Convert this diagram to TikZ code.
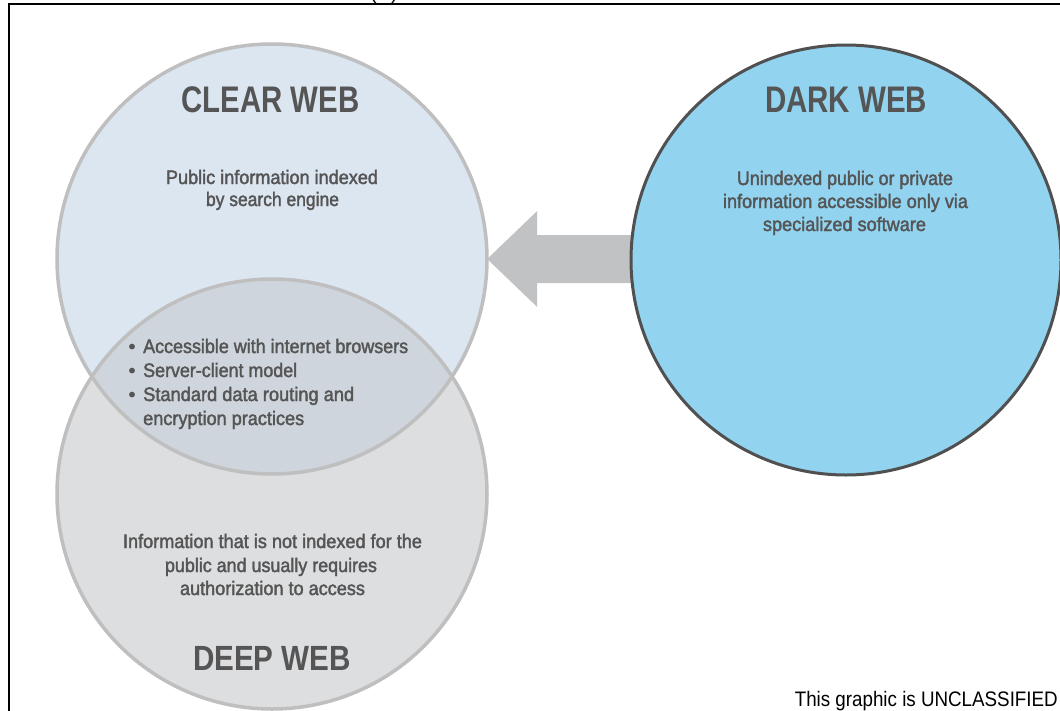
\documentclass[tikz,border=0pt]{standalone}
\usepackage{fontspec}
\usepackage{graphicx}
\setmainfont{Liberation Sans}
\newfontfamily\bodyf{Liberation Sans}[FakeBold=2]
\definecolor{clearfill}{HTML}{DCE6F1}
\definecolor{deepfill}{HTML}{DDDEE0}
\definecolor{overfill}{HTML}{CFD5DC}
\definecolor{darkfill}{HTML}{92D3F0}
\definecolor{lightborder}{HTML}{BFBFBF}
\definecolor{darkborder}{HTML}{505050}
\definecolor{arrowgray}{HTML}{C1C2C4}
\definecolor{txt}{HTML}{555555}
\newcommand\fitw[2]{\resizebox{#1pt}{\height}{#2}}
\begin{document}
\begin{tikzpicture}[x=1pt,y=-1pt,
  venn/.style={circle, minimum size=430pt, inner sep=0pt},
  lbl/.style={anchor=base, inner sep=0pt, text=txt, font=\bodyf\fontsize{19.5}{22}\selectfont},
  lblw/.style={anchor=base west, inner sep=0pt, text=txt, font=\bodyf\fontsize{19.5}{22}\selectfont},
  head/.style={anchor=base, inner sep=0pt, text=txt, font=\bfseries\fontsize{37}{40}\selectfont},
  lightring/.style={draw=lightborder, line width=3.5pt},
  darkring/.style={draw=darkborder, line width=3pt},
  frame/.style={draw=black, line width=2.5pt}]
\useasboundingbox (0,0) rectangle (1060,710);
\fill[white] (0,0) rectangle (1060,710);
% frame
\draw[frame] (9,715) -- (9,4) -- (1065,4);
\node[anchor=base, inner sep=0pt, font=\fontsize{20}{22}\selectfont] (u) at (384,-1) {(U)};
% venn circles
\node[venn, fill=deepfill] (deep) at (272,494) {};
\node[venn, fill=clearfill] (clear) at (272,259) {};
\begin{scope}
  \clip (clear.center) circle (215pt);
  \fill[overfill] (deep.center) circle (215pt);
\end{scope}
\draw[lightring] (deep.center) circle (215pt);
\draw[lightring] (clear.center) circle (215pt);
% dark web
\coordinate (darkc) at (846,260);
\fill[arrowgray] (clear.east) -- ++(50,-48) -- ++(0,24) -- ++(110,0) -- ++(0,48) -- ++(-110,0) -- ++(0,24) -- cycle;
\node[venn, fill=darkfill, darkring] (dark) at (darkc) {};
% headings
\node[head] (clearh) at (270.5,112.7) {\fitw{178}{CLEAR WEB}};
\node[head] (darkh) at (846,112.7) {\fitw{162}{DARK WEB}};
\node[head, font=\bfseries\fontsize{35}{38}\selectfont] (deeph) at (272,670) {\fitw{158}{DEEP WEB}};
% clear web text
\node[lbl] (c1) at (272,184) {\fitw{212}{Public information indexed}};
\node[lbl] (c2) at (272.5,206) {\fitw{133}{by search engine}};
% dark web text
\node[lbl] (d1) at (845,185) {\fitw{216}{Unindexed public or private}};
\node[lbl] (d2) at (845.5,208) {\fitw{245}{information accessible only via}};
\node[lbl] (d3) at (844.5,231) {\fitw{163}{specialized software}};
% overlap bullets
\node[lbl] (b1) at (132,353) {•};
\node[lbl] (b2) at (132,377) {•};
\node[lbl] (b3) at (132,401) {•};
\node[lblw] (o1) at (143,353) {\fitw{265}{Accessible with internet browsers}};
\node[lblw] (o2) at (143,377) {\fitw{154}{Server-client model}};
\node[lblw] (o3) at (143,401) {\fitw{211}{Standard data routing and}};
\node[lblw] (o4) at (143,425) {\fitw{161}{encryption practices}};
% deep web text
\node[lbl] (p1) at (272.5,548) {\fitw{299}{Information that is not indexed for the}};
\node[lbl] (p2) at (271,572) {\fitw{212}{public and usually requires}};
\node[lbl] (p3) at (272.5,595) {\fitw{185}{authorization to access}};
% footer
\node[anchor=base east, inner sep=0pt, font=\fontsize{21}{23}\selectfont] (foot) at (1058,706) {\fitw{263}{This graphic is UNCLASSIFIED}};
\end{tikzpicture}
\end{document}
